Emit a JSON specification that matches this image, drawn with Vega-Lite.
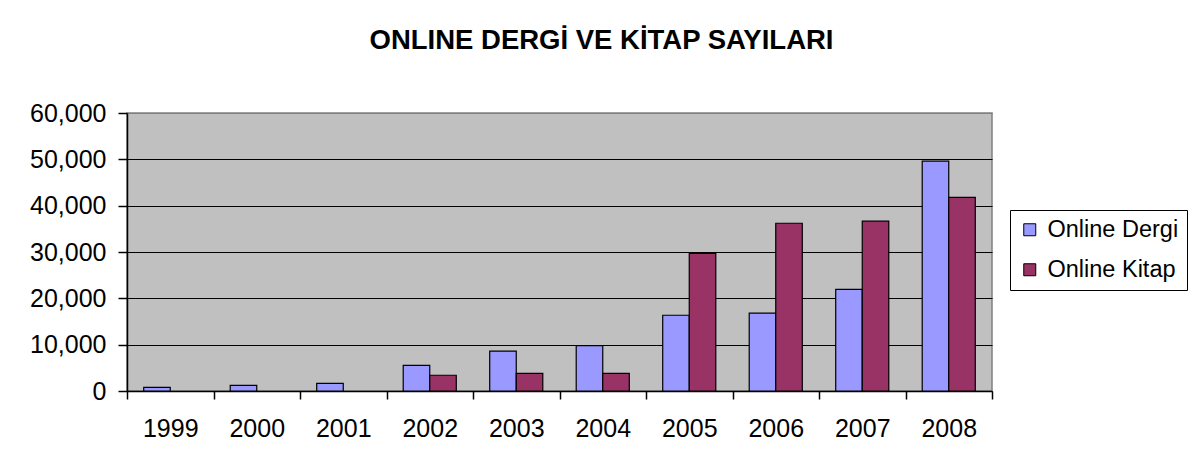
{
  "$schema": "https://vega.github.io/schema/vega-lite/v6.json",
  "autosize": {"type": "none"},
  "padding": {"left": 127, "top": 113, "right": 204, "bottom": 82},
  "width": 865,
  "height": 278,
  "background": "white",
  "title": {
    "text": "ONLINE DERGİ VE KİTAP SAYILARI",
    "fontSize": 27.5,
    "font": "Liberation Sans",
    "fontWeight": "bold",
    "color": "black",
    "anchor": "middle",
    "dx": 42,
    "offset": 47
  },
  "data": {
    "values": [
      {"year": "1999", "series": "Online Dergi", "value": 800},
      {"year": "2000", "series": "Online Dergi", "value": 1200},
      {"year": "2001", "series": "Online Dergi", "value": 1650},
      {"year": "2002", "series": "Online Dergi", "value": 5550},
      {"year": "2002", "series": "Online Kitap", "value": 3400},
      {"year": "2003", "series": "Online Dergi", "value": 8600},
      {"year": "2003", "series": "Online Kitap", "value": 3800},
      {"year": "2004", "series": "Online Dergi", "value": 9800},
      {"year": "2004", "series": "Online Kitap", "value": 3800},
      {"year": "2005", "series": "Online Dergi", "value": 16350},
      {"year": "2005", "series": "Online Kitap", "value": 29700},
      {"year": "2006", "series": "Online Dergi", "value": 16800},
      {"year": "2006", "series": "Online Kitap", "value": 36200},
      {"year": "2007", "series": "Online Dergi", "value": 21950},
      {"year": "2007", "series": "Online Kitap", "value": 36650},
      {"year": "2008", "series": "Online Dergi", "value": 49600},
      {"year": "2008", "series": "Online Kitap", "value": 41800}
    ]
  },
  "mark": {"type": "bar", "stroke": "black", "strokeWidth": 1.2},
  "encoding": {
    "x": {
      "field": "year",
      "type": "nominal",
      "scale": {"paddingInner": 0, "paddingOuter": 0},
      "axis": {
        "title": null,
        "labelAngle": 0,
        "labelFontSize": 25,
        "labelColor": "black",
        "labelFont": "Liberation Sans",
        "domainColor": "black",
        "domainWidth": 1.5,
        "tickColor": "black",
        "tickWidth": 1.5,
        "tickSize": 8,
        "tickBand": "extent",
        "labelPadding": 17
      }
    },
    "xOffset": {
      "field": "series",
      "type": "nominal",
      "sort": ["Online Dergi", "Online Kitap"],
      "scale": {"domain": ["Online Dergi", "Online Kitap"], "paddingInner": 0, "paddingOuter": 0.63}
    },
    "y": {
      "field": "value",
      "type": "quantitative",
      "scale": {"domain": [0, 60000], "nice": false},
      "axis": {
        "title": null,
        "values": [0, 10000, 20000, 30000, 40000, 50000, 60000],
        "format": ",.0f",
        "labelFontSize": 25,
        "labelColor": "black",
        "labelFont": "Liberation Sans",
        "labelPadding": 12,
        "domainColor": "black",
        "domainWidth": 1.5,
        "tickColor": "black",
        "tickWidth": 1.5,
        "tickSize": 9,
        "grid": true,
        "gridColor": {"condition": {"test": "datum.value == 60000", "value": "#808080"}, "value": "black"},
        "gridWidth": 1.2
      }
    },
    "color": {
      "field": "series",
      "type": "nominal",
      "scale": {"domain": ["Online Dergi", "Online Kitap"], "range": ["#9999FF", "#993366"]},
      "legend": {
        "title": null,
        "orient": "none",
        "legendX": 883,
        "legendY": 97,
        "strokeColor": "black",
        "fillColor": "white",
        "padding": 8,
        "labelFontSize": 23.5,
        "labelFont": "Liberation Sans",
        "labelColor": "black",
        "labelOffset": 6,
        "symbolType": "square",
        "symbolSize": 144,
        "symbolStrokeColor": "black",
        "symbolStrokeWidth": 1,
        "symbolOpacity": 1,
        "rowPadding": 15
      }
    }
  },
  "config": {
    "view": {"fill": "#C0C0C0", "stroke": "#808080", "strokeWidth": 1.5},
    "font": "Liberation Sans"
  }
}
